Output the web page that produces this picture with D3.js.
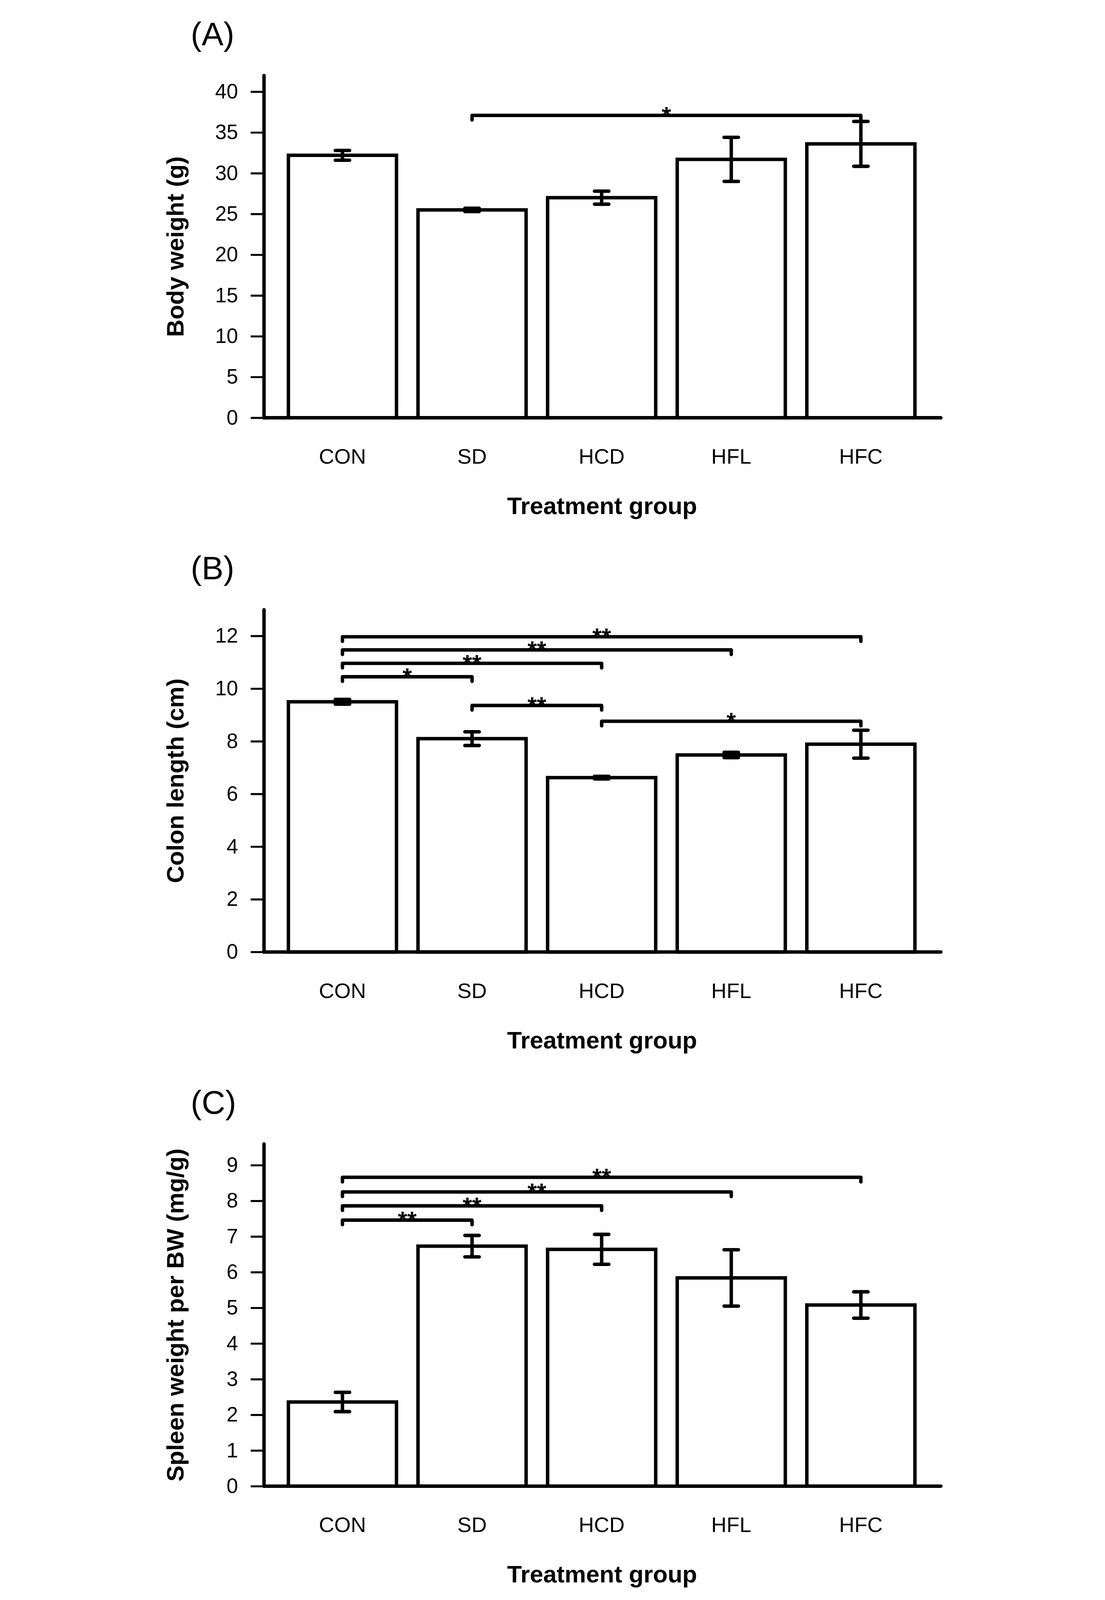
<!DOCTYPE html>
<html>
<head>
<meta charset="utf-8">
<script src="https://cdn.jsdelivr.net/npm/d3@7"></script>
<style>
  html, body { margin: 0; padding: 0; background: #fff; overflow: hidden; }
  svg { display: block; }
  text { font-family: "Liberation Sans", Arial, Helvetica, sans-serif; fill: #000; }
</style>
</head>
<body>
<div id="chart"></div>
<script>
// data
const categories = ["CON", "SD", "HCD", "HFL", "HFC"];

const bodyWeight   = [32.2, 25.5, 27.0, 31.7, 33.6];
const bodyWeightSE = [0.6, 0.2, 0.8, 2.7, 2.75];
const colonLength   = [9.5, 8.1, 6.62, 7.48, 7.89];
const colonLengthSE = [0.09, 0.26, 0.05, 0.1, 0.53];
const spleenWeight   = [2.36, 6.73, 6.64, 5.84, 5.08];
const spleenWeightSE = [0.27, 0.3, 0.42, 0.79, 0.37];

// [from, to, height, label]
const bodyWeightSig = [["SD", "HFC", 37.1, "*"]];
const colonLengthSig = [
  ["CON", "SD", 10.45, "*"],
  ["CON", "HCD", 10.96, "**"],
  ["CON", "HFL", 11.47, "**"],
  ["CON", "HFC", 11.97, "**"],
  ["SD", "HCD", 9.36, "**"],
  ["HCD", "HFC", 8.76, "*"]
];
const spleenWeightSig = [
  ["CON", "SD", 7.46, "**"],
  ["CON", "HCD", 7.86, "**"],
  ["CON", "HFL", 8.25, "**"],
  ["CON", "HFC", 8.66, "**"]
];

const bodyWeightTicks = [0, 5, 10, 15, 20, 25, 30, 35, 40];
const colonLengthTicks = [0, 2, 4, 6, 8, 10, 12];
const spleenWeightTicks = [0, 1, 2, 3, 4, 5, 6, 7, 8, 9];

const panelLabels = ["(A)", "(B)", "(C)"];
const yTitles = ["Body weight (g)", "Colon length (cm)", "Spleen weight per BW (mg/g)"];
const xTitle = "Treatment group";
const yMax = [42, 13, 9.6];

const panels = [
  { values: bodyWeight, se: bodyWeightSE, sig: bodyWeightSig, ticks: bodyWeightTicks },
  { values: colonLength, se: colonLengthSE, sig: colonLengthSig, ticks: colonLengthTicks },
  { values: spleenWeight, se: spleenWeightSE, sig: spleenWeightSig, ticks: spleenWeightTicks }
];

const width = 2830, height = 5580;
const axisX = 408, axisEnd = 2770;
const plotH = 1194;
const firstBottom = 1457, panelGap = 1863;
const lw = 12;

// the window may be shorter than the figure, so draw in figure units and fit
const svg = d3.select("#chart")
  .append("svg")
  .attr("width", window.innerWidth || width)
  .attr("height", window.innerHeight || height)
  .attr("viewBox", `0 0 ${width} ${height}`)
  .attr("preserveAspectRatio", "xMidYMid meet")
  .style("background", "#fff");

const x = d3.scaleBand()
  .domain(categories)
  .range([456, 2717])
  .paddingInner(0.166)
  .paddingOuter(0.083);

const cx = d => x(d) + x.bandwidth() / 2;

panels.forEach((p, i) => {
  const bottom = firstBottom + i * panelGap;
  const y = d3.scaleLinear()
    .domain([0, yMax[i]])
    .range([bottom, bottom - plotH]);

  const g = svg.append("g");

  // bars
  g.selectAll("rect.bar")
    .data(categories)
    .join("rect")
    .attr("class", "bar")
    .attr("x", d => x(d))
    .attr("y", (d, j) => y(p.values[j]))
    .attr("width", x.bandwidth())
    .attr("height", (d, j) => y(0) - y(p.values[j]))
    .attr("fill", "#fff")
    .attr("stroke", "#000")
    .attr("stroke-width", lw);

  // error bars
  const eb = g.append("g")
    .attr("stroke", "#000")
    .attr("stroke-width", lw)
    .attr("stroke-linecap", "round");

  categories.forEach((c, j) => {
    const hi = y(p.values[j] + p.se[j]), lo = y(p.values[j] - p.se[j]);
    eb.append("line").attr("x1", cx(c)).attr("x2", cx(c)).attr("y1", hi).attr("y2", lo);
    eb.append("line").attr("x1", cx(c) - 25).attr("x2", cx(c) + 25).attr("y1", hi).attr("y2", hi);
    eb.append("line").attr("x1", cx(c) - 25).attr("x2", cx(c) + 25).attr("y1", lo).attr("y2", lo);
  });

  // significance brackets
  const sig = g.append("g");
  sig.selectAll("path")
    .data(p.sig)
    .join("path")
    .attr("d", d => {
      const yy = y(d[2]);
      return `M${cx(d[0])},${yy + 16}L${cx(d[0])},${yy}L${cx(d[1])},${yy}L${cx(d[1])},${yy + 16}`;
    })
    .attr("fill", "none")
    .attr("stroke", "#000")
    .attr("stroke-width", lw)
    .attr("stroke-linecap", "round")
    .attr("stroke-linejoin", "round");

  sig.selectAll("text")
    .data(p.sig)
    .join("text")
    .attr("x", d => (cx(d[0]) + cx(d[1])) / 2)
    .attr("y", d => y(d[2]) + 28)
    .attr("text-anchor", "middle")
    .attr("font-size", 84)
    .attr("font-weight", "bold")
    .text(d => d[3]);

  // y axis
  const yAxis = d3.axisLeft(y)
    .tickValues(p.ticks)
    .tickSize(46)
    .tickSizeOuter(0)
    .tickPadding(44);

  const ya = g.append("g")
    .attr("transform", `translate(${axisX},0)`)
    .call(yAxis);
  ya.select(".domain")
    .attr("stroke-width", lw)
    .attr("stroke-linecap", "round");
  ya.selectAll(".tick line").attr("stroke-width", 7);
  ya.selectAll(".tick text")
    .attr("font-size", 72)
    .attr("font-family", null);

  // x baseline
  g.append("line")
    .attr("x1", axisX)
    .attr("x2", axisEnd)
    .attr("y1", y(0))
    .attr("y2", y(0))
    .attr("stroke", "#000")
    .attr("stroke-width", lw)
    .attr("stroke-linecap", "round");

  // category labels
  const xa = g.append("g")
    .attr("transform", `translate(0,${y(0)})`)
    .call(d3.axisBottom(x).tickSize(0).tickPadding(108));
  xa.select(".domain").remove();
  xa.selectAll(".tick text")
    .attr("font-size", 74)
    .attr("font-family", null);

  // titles
  g.append("text")
    .attr("x", 1588)
    .attr("y", y(0) + 336)
    .attr("text-anchor", "middle")
    .attr("font-size", 84)
    .attr("font-weight", "bold")
    .text(xTitle);

  g.append("text")
    .attr("transform", `translate(128,${(y(0) + y(yMax[i])) / 2}) rotate(-90)`)
    .attr("text-anchor", "middle")
    .attr("font-size", 84)
    .attr("font-weight", "bold")
    .text(yTitles[i]);

  g.append("text")
    .attr("x", 153)
    .attr("y", bottom - 1299)
    .attr("font-size", 114)
    .text(panelLabels[i]);
});
</script>
</body>
</html>
